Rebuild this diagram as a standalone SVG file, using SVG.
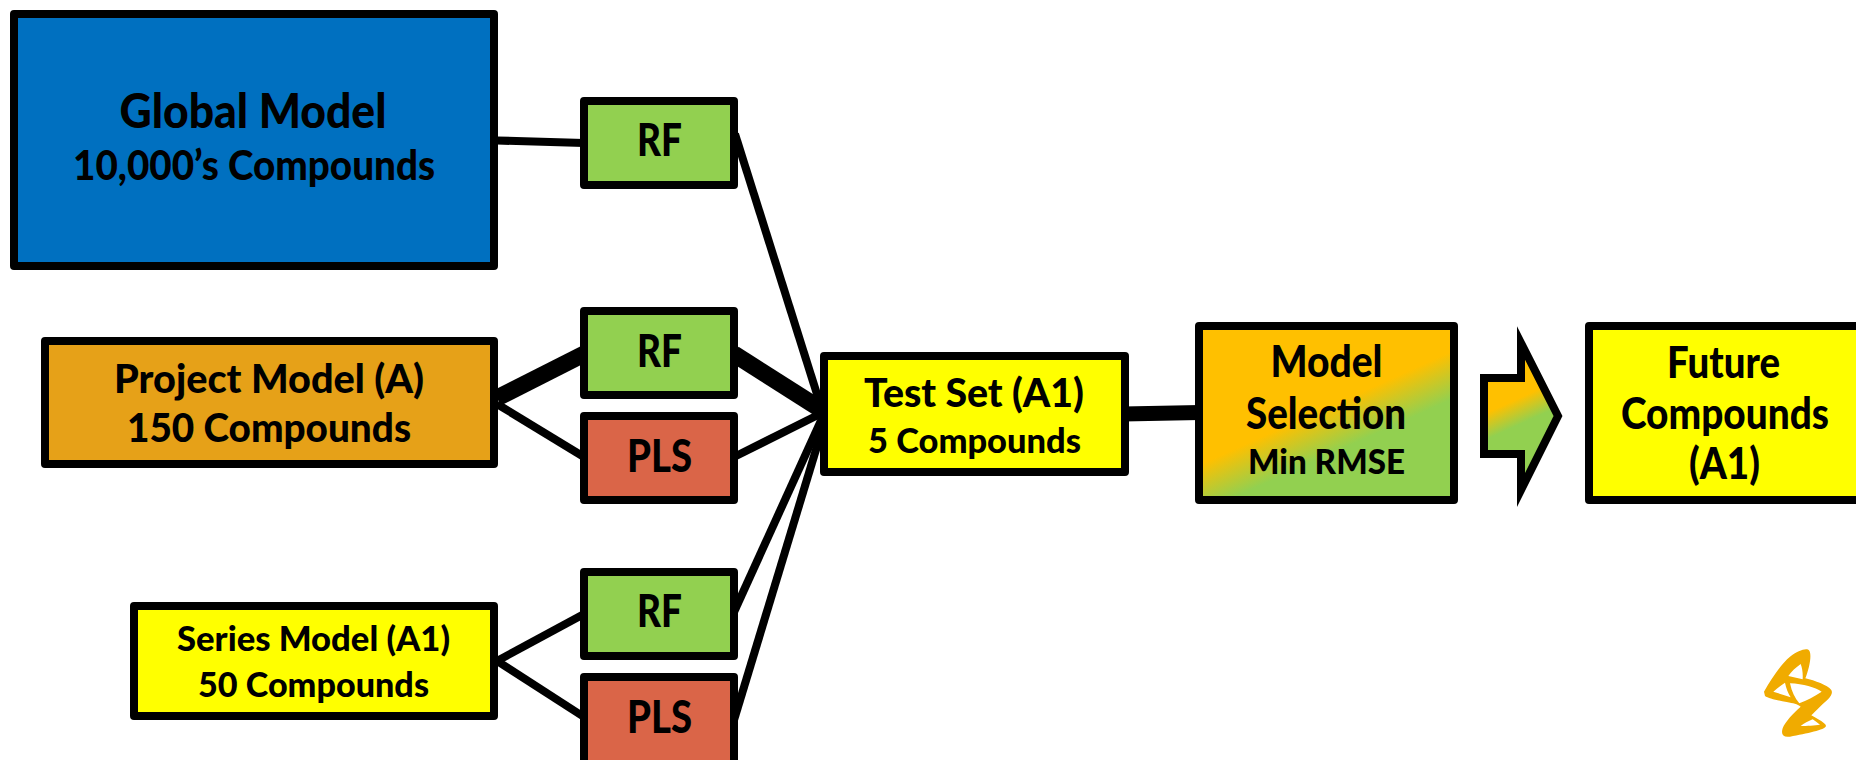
<svg xmlns="http://www.w3.org/2000/svg" width="1856" height="760" viewBox="0 0 1856 760">
<style>
.b{stroke:#000;stroke-width:8;stroke-linejoin:round}
.blue{fill:#0070C0}.orange{fill:#E6A118}.green{fill:#92D050}.red{fill:#DA6548}.yellow{fill:#FFFF00}
text{font-family:"Lato","Liberation Sans",sans-serif;font-weight:900;fill:#000;text-anchor:middle}
.c line{stroke:#000;stroke-width:8}
.c line.t{stroke-width:17}
</style>
<defs>
<linearGradient id="g1" gradientUnits="userSpaceOnUse" x1="1317" y1="412" x2="1335" y2="452"><stop offset="0" stop-color="#FFC000"/><stop offset="1" stop-color="#92D050"/></linearGradient>
<linearGradient id="g2" gradientUnits="userSpaceOnUse" x1="1515" y1="400" x2="1525" y2="422"><stop offset="0" stop-color="#FFC000"/><stop offset="1" stop-color="#92D050"/></linearGradient>
</defs>
<rect width="1856" height="760" fill="#fff"/>
<g id="connectors" class="c">
<line x1="497" y1="140.500" x2="584" y2="143"/>
<line class="t" x1="497" y1="398" x2="584" y2="354"/>
<line x1="497" y1="404" x2="584" y2="457"/>
<line x1="497" y1="661" x2="584" y2="614"/>
<line x1="497" y1="661" x2="584" y2="717"/>
<line x1="735" y1="134" x2="822" y2="410"/>
<line class="t" x1="734" y1="354" x2="822" y2="410"/>
<line x1="734" y1="457" x2="824" y2="412"/>
<line x1="734" y1="612" x2="824" y2="414"/>
<line x1="734" y1="720" x2="825" y2="420"/>
<line style="stroke-width:15" x1="1123" y1="414" x2="1200" y2="412.500"/>
</g>
<g id="global-model"><rect class="b blue" x="14" y="14" width="480" height="252"/>
<text x="253" y="128" font-size="48" textLength="267" lengthAdjust="spacingAndGlyphs">Global Model</text>
<text x="254" y="180" font-size="41" textLength="362" lengthAdjust="spacingAndGlyphs">10,000’s Compounds</text></g>
<g id="rf-global"><rect class="b green" x="584" y="101" width="150" height="84"/>
<text x="659.500" y="156" font-size="45" textLength="45" lengthAdjust="spacingAndGlyphs">RF</text></g>
<g id="project-model"><rect class="b orange" x="45" y="341" width="449" height="123"/>
<text x="269" y="393" font-size="39" textLength="310" lengthAdjust="spacingAndGlyphs">Project Model (A)</text>
<text x="269" y="442" font-size="39" textLength="284" lengthAdjust="spacingAndGlyphs">150 Compounds</text></g>
<g id="rf-project"><rect class="b green" x="584" y="311" width="150" height="84"/>
<text x="659.500" y="367" font-size="45" textLength="45" lengthAdjust="spacingAndGlyphs">RF</text></g>
<g id="pls-project"><rect class="b red" x="584" y="416" width="150" height="84"/>
<text x="659.500" y="472" font-size="45" textLength="65" lengthAdjust="spacingAndGlyphs">PLS</text></g>
<g id="series-model"><rect class="b yellow" x="134" y="606" width="360" height="110"/>
<text x="313.500" y="651" font-size="35" textLength="273" lengthAdjust="spacingAndGlyphs">Series Model (A1)</text>
<text x="313.500" y="697" font-size="35" textLength="231" lengthAdjust="spacingAndGlyphs">50 Compounds</text></g>
<g id="rf-series"><rect class="b green" x="584" y="572" width="150" height="84"/>
<text x="659.500" y="627" font-size="45" textLength="45" lengthAdjust="spacingAndGlyphs">RF</text></g>
<g id="pls-series"><rect class="b red" x="584" y="677" width="150" height="90"/>
<text x="659.500" y="733" font-size="45" textLength="65" lengthAdjust="spacingAndGlyphs">PLS</text></g>
<g id="test-set"><rect class="b yellow" x="824" y="356" width="301" height="116"/>
<text x="974" y="407" font-size="39" textLength="220" lengthAdjust="spacingAndGlyphs">Test Set (A1)</text>
<text x="974.500" y="453" font-size="35" textLength="213" lengthAdjust="spacingAndGlyphs">5 Compounds</text></g>
<g id="model-selection"><rect class="b" fill="url(#g1)" x="1199" y="326" width="255" height="174"/>
<text x="1326.500" y="377" font-size="43" textLength="112" lengthAdjust="spacingAndGlyphs">Model</text>
<text x="1326" y="429" font-size="43" textLength="160" lengthAdjust="spacingAndGlyphs">Selection</text>
<text x="1326.500" y="474" font-size="35" textLength="157" lengthAdjust="spacingAndGlyphs">Min RMSE</text></g>
<g id="arrow"><path d="M1484 378H1521V343L1558 416L1521 490V454H1484Z" fill="url(#g2)" stroke="#000" stroke-width="8" stroke-miterlimit="10"/></g>
<g id="future-compounds"><rect class="b yellow" x="1589" y="326" width="280" height="174"/>
<text x="1723.500" y="378" font-size="43" textLength="113" lengthAdjust="spacingAndGlyphs">Future</text>
<text x="1725" y="429" font-size="43" textLength="208" lengthAdjust="spacingAndGlyphs">Compounds</text>
<text x="1724.500" y="479" font-size="43" textLength="71" lengthAdjust="spacingAndGlyphs">(A1)</text></g>
<g id="logo" transform="translate(1740 640) scale(.3333)"><path fill="#F0AB00" fill-rule="evenodd" d="M72 155C95 115 125 70 150 50C175 32 200 22 208 32C216 45 208 85 196 115C225 122 262 135 274 150C282 165 262 180 240 200C228 212 220 220 214 226C235 238 258 250 258 258C255 270 200 280 150 290C130 293 122 285 128 265C135 245 160 220 182 200C172 192 160 190 140 186C115 182 85 175 75 168ZM145 108L188 118C189 100 187 85 182 72C168 82 154 95 145 108ZM100 155L152 172C145 160 138 145 135 128C122 137 110 146 100 155ZM150 130C155 155 165 175 178 190C200 182 225 168 245 155C225 142 190 132 150 130ZM182 258C200 258 225 256 240 254C232 248 225 243 218 238C205 244 192 250 182 258Z"/></g>
</svg>
